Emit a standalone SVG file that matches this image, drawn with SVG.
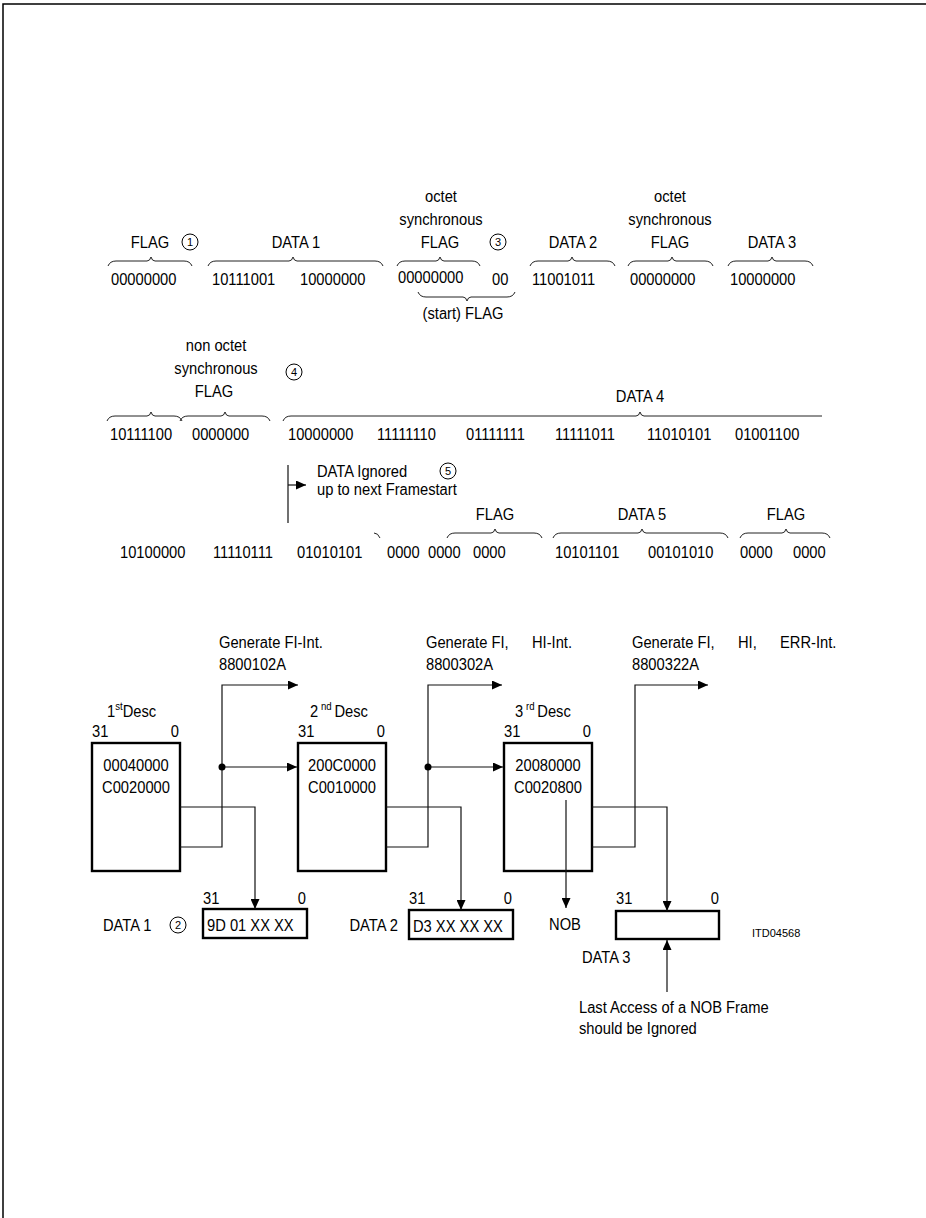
<svg xmlns="http://www.w3.org/2000/svg" width="926" height="1218" viewBox="0 0 926 1218">
<style>
text{font-family:"Liberation Sans",Arial,sans-serif;font-size:16px;fill:#000;transform-box:fill-box;transform-origin:left center;transform:scaleX(.92)}
.m{text-anchor:middle;transform-origin:center}
.e{text-anchor:end;transform-origin:right center}
.sup{font-size:10.5px}
.sm{font-size:11px;transform:none}
.br{fill:none;stroke:#222;stroke-width:1}
.ln{fill:none;stroke:#111;stroke-width:1.2}
.bx{fill:#fff;stroke:#000;stroke-width:2.4}
.cn{fill:none;stroke:#000;stroke-width:1}
.fr{fill:none;stroke:#000;stroke-width:1.5}
</style>
<defs>
<marker id="ah" markerUnits="userSpaceOnUse" markerWidth="11" markerHeight="9" refX="10" refY="4.5" orient="auto">
<path d="M0 0 L10 4.5 L0 9z" fill="#000"/>
</marker>
</defs>
<rect width="926" height="1218" fill="#fff"/>
<path class="fr" d="M926 4 H3 V1218"/>

<!-- Row 1 -->
<g id="row1">
<text class="m" x="150" y="248">FLAG</text>
<g id="c1"><circle class="cn" cx="190" cy="242" r="8"/><text class="m sm" x="190" y="246">1</text></g>
<text class="m" x="296" y="248">DATA 1</text>
<text class="m" x="441" y="202">octet</text>
<text class="m" x="441" y="225">synchronous</text>
<text class="m" x="440" y="248">FLAG</text>
<g id="c3"><circle class="cn" cx="498" cy="242" r="8"/><text class="m sm" x="498" y="246">3</text></g>
<text class="m" x="573" y="248">DATA 2</text>
<text class="m" x="670" y="202">octet</text>
<text class="m" x="670" y="225">synchronous</text>
<text class="m" x="670" y="248">FLAG</text>
<text class="m" x="772" y="248">DATA 3</text>
<text x="111" y="285">00000000</text>
<text x="212" y="285">10111001</text>
<text x="300" y="285">10000000</text>
<text x="398" y="283">00000000</text>
<text x="492" y="285">00</text>
<text x="532" y="285">11001011</text>
<text x="630" y="285">00000000</text>
<text x="730" y="285">10000000</text>
<text class="m" x="463" y="319">(start) FLAG</text>
<g id="braces1">
<path class="br" d="M108 266 Q110 261 116 261 L147 261 Q150 261 151 257 Q152 261 155 261 L184 261 Q190 261 192 266"/>
<path class="br" d="M208 266 Q210 261 216 261 L289 261 Q292 261 293 257 Q294 261 297 261 L375 261 Q381 261 383 266"/>
<path class="br" d="M397 266 Q399 261 405 261 L436 261 Q439 261 440 257 Q441 261 444 261 L472 261 Q478 261 480 266"/>
<path class="br" d="M530 266 Q532 261 538 261 L568 261 Q571 261 572 257 Q573 261 576 261 L607 261 Q613 261 615 266"/>
<path class="br" d="M628 266 Q630 261 636 261 L668 261 Q671 261 672 257 Q673 261 676 261 L705 261 Q711 261 713 266"/>
<path class="br" d="M728 266 Q730 261 736 261 L768 261 Q771 261 772 257 Q773 261 776 261 L805 261 Q811 261 813 266"/>
<path class="br" d="M418 292 Q420 297 426 297 L463 297 Q466 297 467 301 Q468 297 471 297 L507 297 Q513 297 515 292"/>
</g>
</g>

<!-- Row 2 -->
<g id="row2">
<text class="m" x="216" y="351">non octet</text>
<text class="m" x="216" y="374">synchronous</text>
<text class="m" x="214" y="397">FLAG</text>
<g id="c4"><circle class="cn" cx="294" cy="372" r="8"/><text class="m sm" x="294" y="376">4</text></g>
<text class="m" x="640" y="402">DATA 4</text>
<g id="braces2">
<path class="br" d="M107 421 Q109 416 115 416 L147 416 Q150 416 151 412 Q152 416 155 416 L174 416 Q180 416 182 421"/>
<path class="br" d="M180 421 Q182 416 188 416 L221 416 Q224 416 225 412 Q226 416 229 416 L262 416 Q268 416 270 421"/>
<path class="br" d="M283 421 Q285 416 291 416 L636 416 Q639 416 640 412 Q641 416 644 416 L822 416"/>
</g>
<text x="110" y="440">10111100</text>
<text x="192" y="440">0000000</text>
<text x="288" y="440">10000000</text>
<text x="377" y="440">11111110</text>
<text x="466" y="440">01111111</text>
<text x="555" y="440">11111011</text>
<text x="647" y="440">11010101</text>
<text x="735" y="440">01001100</text>
</g>

<!-- Row 3 -->
<g id="row3">
<path class="ln" d="M288 465 V523"/>
<path class="ln" d="M288 485 H306" marker-end="url(#ah)"/>
<text x="317" y="477">DATA Ignored</text>
<text x="317" y="495">up to next Framestart</text>
<g id="c5"><circle class="cn" cx="448" cy="471" r="8"/><text class="m sm" x="448" y="475">5</text></g>
<text class="m" x="495" y="520">FLAG</text>
<text class="m" x="642" y="520">DATA 5</text>
<text class="m" x="786" y="520">FLAG</text>
<g id="braces3">
<path class="br" d="M374 533 Q378 533 380 538"/>
<path class="br" d="M447 538 Q449 533 455 533 L491 533 Q494 533 495 529 Q496 533 499 533 L534 533 Q540 533 542 538"/>
<path class="br" d="M553 538 Q555 533 561 533 L638 533 Q641 533 642 529 Q643 533 646 533 L720 533 Q726 533 728 538"/>
<path class="br" d="M740 538 Q742 533 748 533 L782 533 Q785 533 786 529 Q787 533 790 533 L822 533 Q828 533 830 538"/>
</g>
<text x="120" y="558">10100000</text>
<text x="213" y="558">11110111</text>
<text x="297" y="558">01010101</text>
<text x="387" y="558">0000</text>
<text x="428" y="558">0000</text>
<text x="473" y="558">0000</text>
<text x="555" y="558">10101101</text>
<text x="648" y="558">00101010</text>
<text x="740" y="558">0000</text>
<text x="793" y="558">0000</text>
</g>

<!-- Interrupt labels -->
<g id="int1">
<text x="219" y="648">Generate FI-Int.</text>
<text x="219" y="670">8800102A</text>
</g>
<g id="int2">
<text x="426" y="648">Generate FI,</text>
<text x="532" y="648">HI-Int.</text>
<text x="426" y="670">8800302A</text>
</g>
<g id="int3">
<text x="632" y="648">Generate FI,</text>
<text x="738" y="648">HI,</text>
<text x="780" y="648">ERR-Int.</text>
<text x="632" y="670">8800322A</text>
</g>

<!-- Descriptors -->
<g id="desc1">
<text x="107" y="717">1<tspan class="sup" dy="-7">st</tspan><tspan dy="7">Desc</tspan></text>
<text x="92" y="737">31</text>
<text class="e" x="179" y="737">0</text>
<rect class="bx" x="92" y="743" width="88" height="128"/>
<text class="m" x="136" y="771">00040000</text>
<text class="m" x="136" y="793">C0020000</text>
</g>
<g id="desc2">
<text x="310" y="717">2<tspan class="sup" dx="3" dy="-7">nd</tspan><tspan dx="3" dy="7">Desc</tspan></text>
<text x="298" y="737">31</text>
<text class="e" x="385" y="737">0</text>
<rect class="bx" x="298" y="743" width="88" height="128"/>
<text class="m" x="342" y="771">200C0000</text>
<text class="m" x="342" y="793">C0010000</text>
</g>
<g id="desc3">
<text x="515" y="717">3<tspan class="sup" dx="3" dy="-7">rd</tspan><tspan dx="3" dy="7">Desc</tspan></text>
<text x="504" y="737">31</text>
<text class="e" x="591" y="737">0</text>
<rect class="bx" x="504" y="743" width="88" height="128"/>
<text class="m" x="548" y="771">20080000</text>
<text class="m" x="548" y="793">C0020800</text>
</g>

<!-- Data buffers -->
<g id="data1">
<text x="103" y="931">DATA 1</text>
<g id="c2"><circle class="cn" cx="178" cy="925" r="8"/><text class="m sm" x="178" y="929">2</text></g>
<text x="203" y="904">31</text>
<text class="e" x="306" y="904">0</text>
<rect class="bx" x="203" y="909" width="104" height="29"/>
<text x="207" y="931">9D 01  XX XX</text>
</g>
<g id="data2">
<text class="e" x="398" y="931">DATA 2</text>
<text x="409" y="904">31</text>
<text class="e" x="512" y="904">0</text>
<rect class="bx" x="409" y="910" width="104" height="29"/>
<text x="413" y="932">D3 XX XX XX</text>
</g>
<g id="nob">
<text class="m" x="565" y="930">NOB</text>
</g>
<g id="data3">
<text x="616" y="904">31</text>
<text class="e" x="719" y="904">0</text>
<rect class="bx" x="616" y="911" width="103" height="28"/>
<text x="582" y="963">DATA 3</text>
</g>
<text class="sm" x="752" y="937">ITD04568</text>
<g id="note">
<text x="579" y="1013">Last Access of a NOB Frame</text>
<text x="579" y="1034">should be Ignored</text>
</g>

<!-- Connectors -->
<g id="connectors">
<path class="ln" d="M180 847 H222 V685 H298" marker-end="url(#ah)"/>
<path class="ln" d="M222 767 H297" marker-end="url(#ah)"/>
<circle cx="222" cy="767" r="3.5" fill="#000"/>
<path class="ln" d="M180 807 H255 V909" marker-end="url(#ah)"/>
<path class="ln" d="M386 847 H428 V685 H502" marker-end="url(#ah)"/>
<path class="ln" d="M428 767 H503" marker-end="url(#ah)"/>
<circle cx="428" cy="767" r="3.5" fill="#000"/>
<path class="ln" d="M386 807 H461 V910" marker-end="url(#ah)"/>
<path class="ln" d="M592 847 H635 V685 H708" marker-end="url(#ah)"/>
<path class="ln" d="M592 807 H667 V911" marker-end="url(#ah)"/>
<path class="ln" d="M566 800 V908" marker-end="url(#ah)"/>
<path class="ln" d="M667 992 V940" marker-end="url(#ah)"/>
</g>
</svg>
